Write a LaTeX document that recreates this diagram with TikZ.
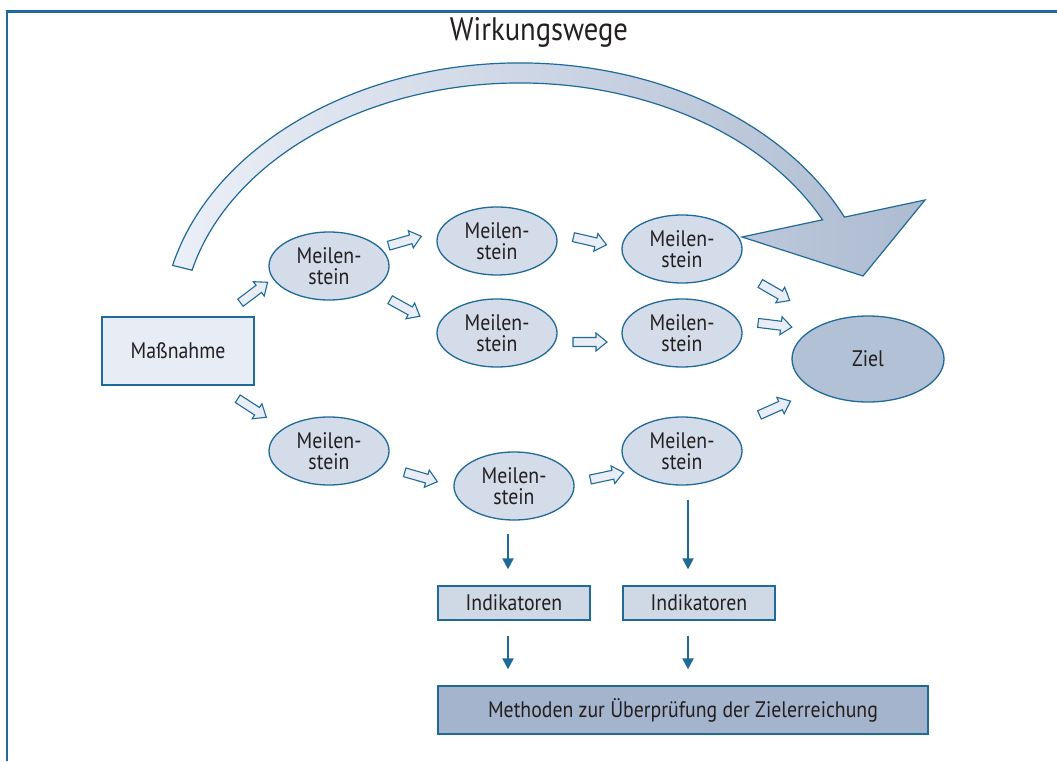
\documentclass[tikz,border=0pt]{standalone}
\usepackage{fontspec}
\setmainfont{PT Sans}[FakeStretch=0.88]
\usetikzlibrary{arrows.meta,shapes.geometric}
\definecolor{lineblue}{HTML}{1F6A98}
\definecolor{ellfill}{HTML}{D3DCE8}
\definecolor{boxfill}{HTML}{E8ECF5}
\definecolor{indfill}{HTML}{CFD8E5}
\definecolor{zielfill}{HTML}{B3C1D6}
\definecolor{methfill}{HTML}{A4B4CC}
\definecolor{arrfill}{HTML}{E9EEF6}
\definecolor{txt}{HTML}{231F20}
\definecolor{bandleft}{HTML}{EBEFF7}
\definecolor{bandright}{HTML}{ADBBD1}
\tikzset{
  every node/.style={text=txt},
  mile/.style={ellipse, draw=lineblue, line width=1.3pt, fill=ellfill,
    minimum width=120pt, minimum height=68pt, inner sep=0pt,
    align=center, font=\fontsize{22.5}{21.5}\selectfont},
  rectbox/.style={rectangle, draw=lineblue, line width=1.3pt,
    inner sep=0pt, font=\fontsize{22.5}{22}\selectfont},
  darr/.style={draw=lineblue, line width=2.2pt,
    -{Triangle[length=11pt,width=11pt]}},
  barrowstyle/.style={draw=lineblue, line width=1.1pt, fill=arrfill, line join=miter},
  barrow/.pic={\path[barrowstyle] (-17,-4.5) -- (6,-4.5) -- (6,-9) -- (17,0) -- (6,9) -- (6,4.5) -- (-17,4.5) -- cycle;}
}
\begin{document}
\begin{tikzpicture}[x=1pt,y=1pt]
\useasboundingbox (0,0) rectangle (1057,761);
% frame
\draw[lineblue, line width=2.5pt] (7,0) -- (7,749.5) -- (1057,749.5);
% title
\node (title) at (539,729) {\fontsize{32.5}{34}\selectfont Wirkungswege};
% big curved arrow
\path[draw=lineblue, line width=1.2pt, left color=bandleft, right color=bandright, line join=miter]
  (172.6,495.6) arc[start angle=166, end angle=25, x radius=358, y radius=267]
  -- (925,561) -- (863,485) -- (742,524) -- (822.5,541.2)
  arc[start angle=26.5, end angle=166, x radius=338, y radius=247] -- cycle;
% nodes
\node[rectbox, fill=boxfill, minimum width=152pt, minimum height=68pt] (M) at (178,410) {Maßnahme};
\node[mile] (A) at (329,495) {Meilen-\\stein};
\node[mile] (B) at (497,520) {Meilen-\\stein};
\node[mile] (C) at (682,512) {Meilen-\\stein};
\node[mile] (D) at (497,428) {Meilen-\\stein};
\node[mile] (E) at (682,428) {Meilen-\\stein};
\node[mile] (F) at (329,310) {Meilen-\\stein};
\node[mile] (G) at (514,275) {Meilen-\\stein};
\node[mile] (H) at (682,310) {Meilen-\\stein};
\node[ellipse, draw=lineblue, line width=1.3pt, fill=zielfill, minimum width=152pt,
  minimum height=86pt, inner sep=0pt, font=\fontsize{22.5}{22}\selectfont] (Z) at (868,402) {Ziel};
\node[rectbox, fill=indfill, minimum width=152pt, minimum height=34pt] (I1) at (514,158) {Indikatoren};
\node[rectbox, fill=indfill, minimum width=152pt, minimum height=34pt] (I2) at (699,158) {Indikatoren};
\node[rectbox, fill=methfill, minimum width=490pt, minimum height=48pt] (Me) at (683,51) {Methoden zur Überprüfung der Zielerreichung};
% block arrows
\pic[rotate=37] at (254,468.5) {barrow};
\pic[rotate=16] at (405,520) {barrow};
\pic[rotate=-29] at (405,453) {barrow};
\pic[rotate=-13] at (590,520) {barrow};
\pic[rotate=0] at (590,419) {barrow};
\pic[rotate=-30] at (775,469) {barrow};
\pic[rotate=-7] at (775,436) {barrow};
\pic[rotate=24] at (775,353) {barrow};
\pic[rotate=-33] at (252,353) {barrow};
\pic[rotate=-16] at (421,284) {barrow};
\pic[rotate=12] at (607,285) {barrow};
% down arrows
\draw[darr] ([xshift=-6pt,yshift=-13pt]G.south) -- ([xshift=-6pt,yshift=16pt]I1.north);
\draw[darr] ([xshift=6pt,yshift=-14pt]H.south) -- ([xshift=-11pt,yshift=16pt]I2.north);
\draw[darr] ([xshift=-6pt,yshift=-15pt]I1.south) -- ([xshift=-175pt,yshift=16pt]Me.north);
\draw[darr] ([xshift=-11pt,yshift=-15pt]I2.south) -- ([xshift=5pt,yshift=16pt]Me.north);
\end{tikzpicture}
\end{document}
